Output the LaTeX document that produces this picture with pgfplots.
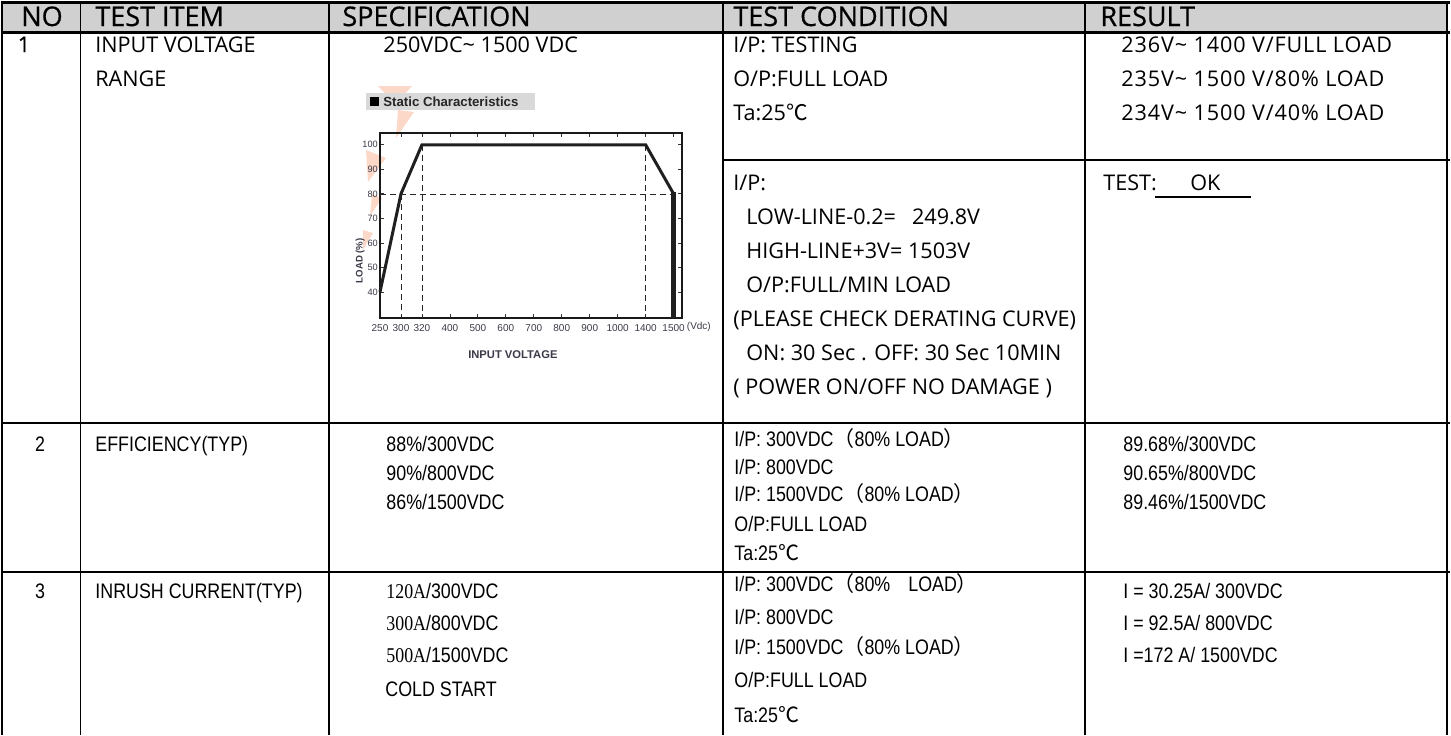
\documentclass[border=0pt]{standalone}
\usepackage{pgfplots}
\pgfplotsset{compat=1.18}
\usepackage{fontspec}
\setmainfont{Open Sans}
\newfontfamily\hdr[FakeBold=0.6]{Open Sans}
\newfontfamily\ar[FakeStretch=0.85]{Liberation Sans}
\newfontfamily\tnr[FakeStretch=0.85]{Liberation Serif}
\newfontfamily\arial{Liberation Sans}
\newfontfamily\cjk{Noto Sans CJK SC}
\definecolor{hdrgray}{HTML}{D0D0D0}
\definecolor{wm}{HTML}{F8B89A}
\definecolor{tick}{HTML}{3A3A48}
\newcommand\HT[3]{\node[anchor=base west,inner sep=0pt,font=\hdr\fontsize{13.5}{15}\selectfont] at (#1,#2) {#3};}
\newcommand\TA[3]{\node[anchor=base west,inner sep=0pt,font=\fontsize{10.8}{12}\selectfont] at (#1,#2) {#3};}
\newcommand\TR[3]{\node[anchor=base west,inner sep=0pt,font=\addfontfeature{LetterSpace=4}\fontsize{10.8}{12}\selectfont] at (#1,#2) {#3};}
\newcommand\TB[3]{\node[anchor=base west,inner sep=0pt,font=\ar\fontsize{10.5}{12}\selectfont] at (#1,#2) {#3};}
\newcommand\C{{\cjk ℃}}
\newcommand\LP{{\cjk （}}
\newcommand\RP{{\cjk ）}}
\begin{document}
\begin{tikzpicture}[x=0.5pt,y=-0.5pt]
\path[use as bounding box] (0,0) rectangle (1451,735);
% header fill
\fill[hdrgray] (2,2) rectangle (1448,32);
% watermark
\begin{scope}[opacity=0.55]
\fill[wm] (378,86) -- (412,86) -- (396,104) -- cycle;
\fill[wm] (398,110) -- (414,112) -- (396,138) -- cycle;
\fill[wm] (366,150) -- (386,158) -- (368,182) -- cycle;
\fill[wm] (372,194) -- (382,198) -- (370,216) -- cycle;
\fill[wm] (363,230) -- (373,233) -- (363,250) -- cycle;
\end{scope}
% chart label
\fill[gray!30] (366,93) rectangle (535,110);
\fill[black] (370,97) rectangle (379,106);
\node[anchor=west,inner sep=0pt,font=\arial\bfseries\fontsize{6.6}{7}\selectfont,text=black!85] at (383,101.5) {Static Characteristics};
\begin{axis}[
  at={(190pt,-159pt)}, anchor=south west,
  scale only axis, width=151pt, height=92.5pt,
  xmin=0, xmax=10.8, ymin=29.4, ymax=104.8,
  clip=false,
  axis line style={line width=1pt, black!90},
  xtick={0,0.75,1.5,2.5,3.5,4.5,5.5,6.5,7.5,8.5,9.5,10.5},
  xticklabels={250,300,320,400,500,600,700,800,900,1000,1400,1500},
  ytick={40,50,60,70,80,90,100},
  /pgf/number format/assume math mode=true,
  tick align=inside, major tick length=2.2pt,
  tick style={black!80, line width=0.4pt},
  ticklabel style={font=\arial\fontsize{5}{6}\selectfont, text=tick},
  xticklabel style={yshift=0.5pt},
  yticklabel style={xshift=2.4pt, font=\arial\fontsize{4.6}{5}\selectfont},
  xlabel={INPUT VOLTAGE},
  xlabel style={font=\arial\bfseries\fontsize{5.6}{6}\selectfont, text=tick, at={(axis description cs:0.44,-0.2)}, anchor=center},
  ylabel={LOAD (\%)},
  ylabel style={font=\arial\bfseries\fontsize{4.8}{5}\selectfont, text=tick, at={(axis description cs:-0.066,0.31)}, anchor=center},
]
\addplot[black!85, line width=0.35pt, dash pattern=on 3pt off 2pt] coordinates {(0,80) (10.5,80)};
\addplot[black!85, line width=0.35pt, dash pattern=on 3pt off 2pt] coordinates {(0.75,80) (0.75,29.4)};
\addplot[black!85, line width=0.35pt, dash pattern=on 3pt off 2pt] coordinates {(1.5,100) (1.5,29.4)};
\addplot[black!85, line width=0.35pt, dash pattern=on 3pt off 2pt] coordinates {(9.5,100) (9.5,29.4)};
\addplot[black!88, line width=1.5pt, line join=miter] coordinates {(0,40) (0.75,80) (1.5,100) (9.5,100) (10.5,80)};
\addplot[black!88, line width=2.6pt] coordinates {(10.5,80.6) (10.5,29.4)};
\node[anchor=west,inner sep=0pt,font=\arial\fontsize{5}{6}\selectfont,text=tick] at (axis description cs:1.015,-0.05) {(Vdc)};
\end{axis}
% grid lines
\draw[line width=1.5pt] (1,2) -- (1450,2);
\draw[line width=1.5pt] (1,32) -- (1450,32);
\draw[line width=1.3pt] (1,423) -- (1450,423);
\draw[line width=1.3pt] (1,572) -- (1450,572);
\draw[line width=1.4pt] (722,160) -- (1450,160);
\foreach \xx in {2,80.5,329,723,1085,1447}{\draw[line width=0.9pt] (\xx,2) -- (\xx,735);}
% header
\node[anchor=base,inner sep=0pt,font=\hdr\fontsize{13.5}{15}\selectfont] at (42,26) {NO};
\HT{95}{26}{TEST ITEM}
\HT{342}{26}{SPECIFICATION}
\HT{733}{26}{TEST CONDITION}
\HT{1100}{26}{RESULT}
% row 1
\node[anchor=base,inner sep=0pt,font=\hdr\fontsize{10.8}{12}\selectfont] at (24,52) {1};
\TA{95}{52}{INPUT VOLTAGE}
\TA{95}{86}{RANGE}
\TA{383}{52}{250VDC\textasciitilde{} 1500 VDC}
\TA{733}{52}{I/P: TESTING}
\TA{733}{86}{O/P:FULL LOAD}
\TA{733}{120}{Ta:25\C}
\TR{1121}{52}{236V\textasciitilde{} 1400 V/FULL LOAD}
\TR{1121}{86}{235V\textasciitilde{} 1500 V/80\% LOAD}
\TR{1121}{120}{234V\textasciitilde{} 1500 V/40\% LOAD}
\TA{733}{190}{I/P:}
\TA{746}{224}{LOW-LINE-0.2=\hspace{8pt}249.8V}
\TA{746}{258}{HIGH-LINE+3V= 1503V}
\TA{746}{292}{O/P:FULL/MIN LOAD}
\TA{733}{326}{(PLEASE CHECK DERATING CURVE)}
\TA{746}{360}{ON: 30 Sec . OFF: 30 Sec 10MIN}
\TA{733}{394}{( POWER ON/OFF NO DAMAGE )}
\TA{1103}{190}{TEST:}
\TA{1190}{190}{OK}
\draw[line width=0.6pt] (1155,197) -- (1251,197);
% row 2
\node[anchor=base,inner sep=0pt,font=\ar\fontsize{10.5}{12}\selectfont] at (40,451.5) {2};
\TB{95}{451.5}{EFFICIENCY(TYP)}
\TB{386}{451.5}{88\%/300VDC}
\TB{386}{480.5}{90\%/800VDC}
\TB{386}{509.5}{86\%/1500VDC}
\TB{734}{446}{I/P: 300VDC\LP 80\% LOAD\RP}
\TB{734}{474}{I/P: 800VDC}
\TB{734}{501}{I/P: 1500VDC\LP 80\% LOAD\RP}
\TB{734}{531}{O/P:FULL LOAD}
\TB{734}{560}{Ta:25\C}
\TB{1123}{451.5}{89.68\%/300VDC}
\TB{1123}{480.5}{90.65\%/800VDC}
\TB{1123}{509.5}{89.46\%/1500VDC}
% row 3
\node[anchor=base,inner sep=0pt,font=\ar\fontsize{10.5}{12}\selectfont] at (40,598.5) {3};
\TB{95}{598.5}{INRUSH CURRENT(TYP)}
\TB{386}{598.5}{{\tnr 120A}/300VDC}
\TB{386}{630.5}{{\tnr 300A}/800VDC}
\TB{386}{662.5}{{\tnr 500A}/1500VDC}
\TB{385}{696.5}{COLD START}
\TB{734}{591.5}{I/P: 300VDC\LP 80\%\hspace{9pt}LOAD\RP}
\TB{734}{624}{I/P: 800VDC}
\TB{734}{654}{I/P: 1500VDC\LP 80\% LOAD\RP}
\TB{734}{687}{O/P:FULL LOAD}
\TB{734}{722.5}{Ta:25\C}
\TB{1123}{598.5}{I = 30.25A/ 300VDC}
\TB{1123}{630.5}{I = 92.5A/ 800VDC}
\TB{1123}{662.5}{I =172 A/ 1500VDC}
\end{tikzpicture}
\end{document}
